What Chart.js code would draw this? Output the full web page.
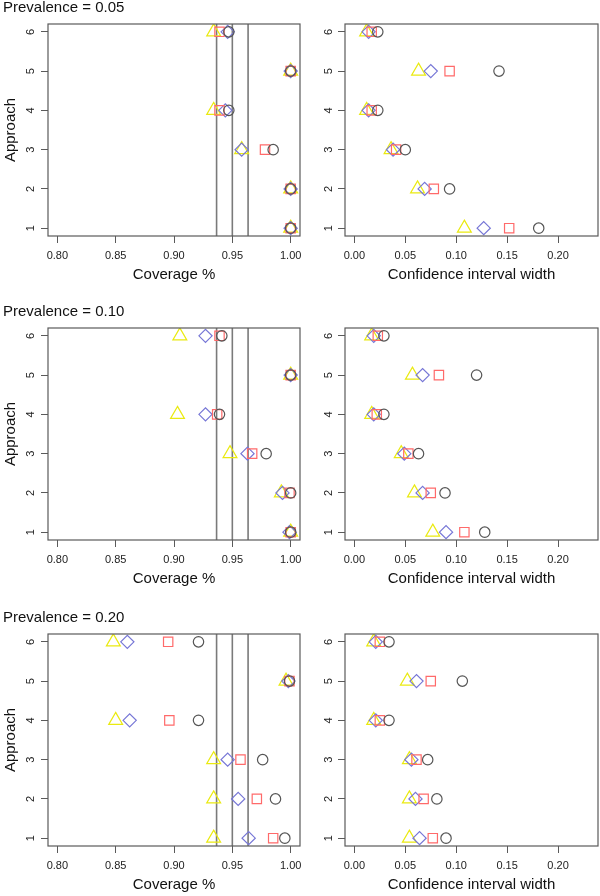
<!DOCTYPE html>
<html><head><meta charset="utf-8">
<script src="https://cdn.jsdelivr.net/npm/chart.js@4.4.1/dist/chart.umd.min.js"></script>
<style>
html,body{margin:0;padding:0;background:#fff;}
body{width:600px;height:896px;position:relative;overflow:hidden;}
canvas{position:absolute;}
</style></head><body>
<canvas id="p0" width="310" height="286" style="left:0;top:0"></canvas>
<canvas id="p1" width="308" height="286" style="left:300px;top:0"></canvas>
<canvas id="p2" width="310" height="286" style="left:0;top:304px"></canvas>
<canvas id="p3" width="308" height="286" style="left:300px;top:304px"></canvas>
<canvas id="p4" width="310" height="286" style="left:0;top:610px"></canvas>
<canvas id="p5" width="308" height="286" style="left:300px;top:610px"></canvas>
<script>
// ---------- data ----------
const APPROACHES = [1, 2, 3, 4, 5, 6];
const PREVALENCE_TITLES = ['Prevalence = 0.05', 'Prevalence = 0.10', 'Prevalence = 0.20'];
const Y_TICKS = [1, 2, 3, 4, 5, 6];
const COV_TICKS = [0.80, 0.85, 0.90, 0.95, 1.00];
const CIW_TICKS = [0.00, 0.05, 0.10, 0.15, 0.20];
const COV_LIMITS = [0.792, 1.008];
const CIW_LIMITS = [-0.0092, 0.2392];
const Y_LIMITS = [0.8, 6.2];
const NOMINAL_LINES = [0.9365, 0.95, 0.9635];
const COV_TITLE = 'Coverage %';
const CIW_TITLE = 'Confidence interval width';
const Y_TITLE = 'Approach';

// coverage, approaches 1..6
const cov05Circle   = [1.000, 1.000, 0.985, 0.947, 1.000, 0.947];
const cov05Square   = [1.000, 1.000, 0.978, 0.939, 1.000, 0.939];
const cov05Diamond  = [1.000, 1.000, 0.958, 0.944, 1.000, 0.946];
const cov05Triangle = [1.000, 1.000, 0.958, 0.934, 1.000, 0.934];

const cov10Circle   = [1.000, 1.000, 0.979, 0.939, 1.000, 0.941];
const cov10Square   = [1.000, 0.999, 0.967, 0.937, 1.000, 0.939];
const cov10Diamond  = [0.999, 0.993, 0.963, 0.927, 1.000, 0.927];
const cov10Triangle = [1.000, 0.992, 0.948, 0.903, 1.000, 0.905];

const cov20Circle   = [0.995, 0.987, 0.976, 0.921, 0.999, 0.921];
const cov20Square   = [0.985, 0.971, 0.957, 0.896, 0.999, 0.895];
const cov20Diamond  = [0.964, 0.955, 0.946, 0.862, 0.998, 0.860];
const cov20Triangle = [0.934, 0.934, 0.934, 0.850, 0.996, 0.848];

// confidence interval width, approaches 1..6
const ciw05Circle   = [0.181, 0.0935, 0.050, 0.023, 0.142, 0.023];
const ciw05Square   = [0.152, 0.078, 0.041, 0.017, 0.0935, 0.017];
const ciw05Diamond  = [0.127, 0.069, 0.038, 0.014, 0.075, 0.014];
const ciw05Triangle = [0.108, 0.062, 0.036, 0.012, 0.063, 0.012];

const ciw10Circle   = [0.128, 0.089, 0.063, 0.029, 0.120, 0.029];
const ciw10Square   = [0.108, 0.075, 0.053, 0.022, 0.083, 0.023];
const ciw10Diamond  = [0.090, 0.067, 0.049, 0.019, 0.067, 0.019];
const ciw10Triangle = [0.077, 0.059, 0.046, 0.017, 0.057, 0.017];

const ciw20Circle   = [0.090, 0.081, 0.072, 0.034, 0.106, 0.034];
const ciw20Square   = [0.077, 0.068, 0.061, 0.025, 0.075, 0.025];
const ciw20Diamond  = [0.064, 0.060, 0.056, 0.021, 0.061, 0.021];
const ciw20Triangle = [0.054, 0.054, 0.054, 0.019, 0.052, 0.019];

// ---------- styling ----------
const FONT = "'Liberation Sans', Arial, Helvetica, sans-serif";
const AXIS_COLOR = '#5a5a5a';
const TEXT_COLOR = '#222';
const MARKERS = [
  {style: 'circle',   radius: 5.2, color: '#555555'},
  {style: 'rect',     radius: 6.6, color: '#ff6a6a'},
  {style: 'rectRot',  radius: 6.6, color: '#7676d6'},
  {style: 'triangle', radius: 8,   color: '#eaea10'}
];

const panels = [
  {id: 'p0', left: true,  title: PREVALENCE_TITLES[0], xTitle: COV_TITLE, ticks: COV_TICKS, lim: COV_LIMITS, series: [cov05Circle, cov05Square, cov05Diamond, cov05Triangle], lines: true},
  {id: 'p1', left: false, title: null, xTitle: CIW_TITLE, ticks: CIW_TICKS, lim: CIW_LIMITS, series: [ciw05Circle, ciw05Square, ciw05Diamond, ciw05Triangle], lines: false},
  {id: 'p2', left: true,  title: PREVALENCE_TITLES[1], xTitle: COV_TITLE, ticks: COV_TICKS, lim: COV_LIMITS, series: [cov10Circle, cov10Square, cov10Diamond, cov10Triangle], lines: true},
  {id: 'p3', left: false, title: null, xTitle: CIW_TITLE, ticks: CIW_TICKS, lim: CIW_LIMITS, series: [ciw10Circle, ciw10Square, ciw10Diamond, ciw10Triangle], lines: false},
  {id: 'p4', left: true,  title: PREVALENCE_TITLES[2], xTitle: COV_TITLE, ticks: COV_TICKS, lim: COV_LIMITS, series: [cov20Circle, cov20Square, cov20Diamond, cov20Triangle], lines: true},
  {id: 'p5', left: false, title: null, xTitle: CIW_TITLE, ticks: CIW_TICKS, lim: CIW_LIMITS, series: [ciw20Circle, ciw20Square, ciw20Diamond, ciw20Triangle], lines: false}
];

const framePlugin = {
  id: 'frame',
  afterDatasetsDraw(chart) {
    const {ctx, chartArea: a} = chart;
    ctx.save();
    ctx.strokeStyle = AXIS_COLOR;
    ctx.lineWidth = 1.2;
    ctx.strokeRect(a.left, a.top, a.right - a.left, a.bottom - a.top);
    ctx.restore();
  }
};

function zeroPad(s) { s.paddingLeft = 0; s.paddingRight = 0; s.paddingTop = 0; s.paddingBottom = 0; }

panels.forEach(p => {
  const datasets = p.series.map((vals, k) => ({
    label: MARKERS[k].style,
    data: APPROACHES.map((a, i) => ({x: vals[i], y: a})),
    pointStyle: MARKERS[k].style,
    pointRadius: MARKERS[k].radius,
    pointHoverRadius: MARKERS[k].radius,
    pointBorderColor: MARKERS[k].color,
    pointBackgroundColor: 'rgba(0,0,0,0)',
    pointBorderWidth: 1.2,
    borderColor: MARKERS[k].color,
    showLine: false
  }));
  if (p.lines) {
    NOMINAL_LINES.forEach(v => datasets.push({
      label: 'ref',
      data: [{x: v, y: Y_LIMITS[0]}, {x: v, y: Y_LIMITS[1]}],
      showLine: true,
      pointRadius: 0,
      borderColor: '#7a7a7a',
      borderWidth: 1.6
    }));
  }
  new Chart(document.getElementById(p.id), {
    type: 'scatter',
    data: {datasets},
    plugins: [framePlugin],
    options: {
      responsive: false,
      animation: false,
      devicePixelRatio: 1,
      events: [],
      layout: {padding: p.left ? {left: 3, right: 10, top: 0, bottom: 0} : {left: 0, right: 10, top: 24, bottom: 0}},
      plugins: {
        legend: {display: false},
        tooltip: {enabled: false},
        title: {
          display: !!p.title,
          text: p.title || '',
          align: 'start',
          color: '#111',
          font: {family: FONT, size: 15, weight: 'normal', lineHeight: 1},
          padding: {top: 0, bottom: 9}
        }
      },
      scales: {
        x: {
          type: 'linear',
          min: p.lim[0], max: p.lim[1],
          afterBuildTicks: s => { s.ticks = p.ticks.map(v => ({value: v})); },
          afterFit: s => { s.height = 50; zeroPad(s); },
          grid: {display: true, drawOnChartArea: false, drawTicks: true, tickLength: 7, color: AXIS_COLOR, lineWidth: 1},
          border: {display: false},
          ticks: {autoSkip: false, maxRotation: 0, minRotation: 0, padding: 6, color: TEXT_COLOR,
                  font: {family: FONT, size: 11}, callback: v => Number(v).toFixed(2)},
          title: {display: true, text: p.xTitle, color: '#111',
                  font: {family: FONT, size: 15, lineHeight: 1}, padding: {top: 0, bottom: 4}}
        },
        y: {
          type: 'linear',
          min: Y_LIMITS[0], max: Y_LIMITS[1],
          afterBuildTicks: s => { s.ticks = Y_TICKS.map(v => ({value: v})); },
          afterFit: s => { s.width = 45; zeroPad(s); },
          grid: {display: true, drawOnChartArea: false, drawTicks: true, tickLength: 7, color: AXIS_COLOR, lineWidth: 1},
          border: {display: false},
          ticks: {minRotation: 90, maxRotation: 90, crossAlign: 'center', padding: p.left ? 7 : 5.5,
                  color: TEXT_COLOR, font: {family: FONT, size: 11}, callback: v => String(v)},
          title: {display: p.left, text: Y_TITLE, color: '#111',
                  font: {family: FONT, size: 15, lineHeight: 1}, padding: {top: 0, bottom: 0}}
        }
      }
    }
  });
});
</script>
</body></html>
